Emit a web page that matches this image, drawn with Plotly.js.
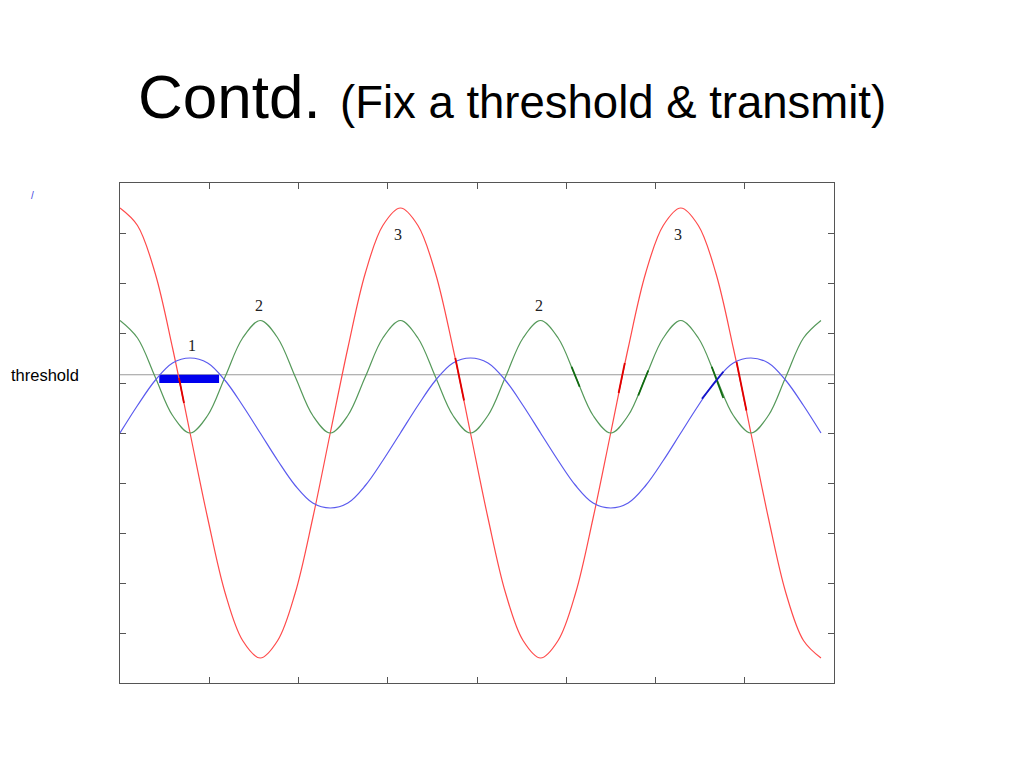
<!DOCTYPE html>
<html>
<head>
<meta charset="utf-8">
<script src="https://cdn.plot.ly/plotly-3.0.1.min.js"></script>
<style>
  html, body { margin: 0; padding: 0; background: #ffffff; }
  #chart { width: 1024px; height: 768px; }
</style>
</head>
<body>
<div id="chart"></div>
<script>
// ---- data ----
const t = [0, 0.196, 0.393, 0.589, 0.785, 0.982, 1.178, 1.374, 1.571, 1.767,
           1.963, 2.160, 2.356, 2.553, 2.749, 2.945, 3.142, 3.338, 3.534, 3.731,
           3.927, 4.123, 4.320, 4.516, 4.712, 4.909, 5.105, 5.301, 5.498, 5.694,
           5.890, 6.087, 6.283, 6.480, 6.676, 6.872, 7.069, 7.265, 7.461, 7.658, 7.854];

const signal3 = [0.9, 0.83, 0.64, 0.34, 0, -0.34, -0.64, -0.83, -0.9, -0.83,
                 -0.64, -0.34, 0, 0.34, 0.64, 0.83, 0.9, 0.83, 0.64, 0.34,
                 0, -0.34, -0.64, -0.83, -0.9, -0.83, -0.64, -0.34, 0, 0.34,
                 0.64, 0.83, 0.9, 0.83, 0.64, 0.34, 0, -0.34, -0.64, -0.83, -0.9];

const signal2 = [0.45, 0.38, 0.225, 0.07, 0, 0.07, 0.225, 0.38, 0.45, 0.38,
                 0.225, 0.07, 0, 0.07, 0.225, 0.38, 0.45, 0.38, 0.225, 0.07,
                 0, 0.07, 0.225, 0.38, 0.45, 0.38, 0.225, 0.07, 0, 0.07,
                 0.225, 0.38, 0.45, 0.38, 0.225, 0.07, 0, 0.07, 0.225, 0.38, 0.45];

const signal1 = [0, 0.11, 0.21, 0.28, 0.3, 0.28, 0.21, 0.11, 0, -0.11,
                 -0.21, -0.28, -0.3, -0.28, -0.21, -0.11, 0, 0.11, 0.21, 0.28,
                 0.3, 0.28, 0.21, 0.11, 0, -0.11, -0.21, -0.28, -0.3, -0.28,
                 -0.21, -0.11, 0, 0.11, 0.21, 0.28, 0.3, 0.28, 0.21, 0.11, 0];

const threshold = 0.233;
const barStart = 0.44;
const barEnd = 1.11;
const barBottom = 0.2;

// short highlighted pieces near the threshold crossings (null separates pieces)
const markRedX = [0.661, 0.717, null, 3.757, 3.855, null, 5.587, 5.656, null, 6.908, 7.019];
const markRedY = [0.22, 0.12, null, 0.30, 0.13, null, 0.16, 0.28, null, 0.285, 0.09];
const markGreenX = [5.06, 5.15, null, 5.807, 5.919, null, 6.63, 6.76];
const markGreenY = [0.265, 0.185, null, 0.15, 0.25, null, 0.265, 0.14];
const markBlueX = [6.52, 6.76];
const markBlueY = [0.137, 0.245];

const labelText = ['1', '2', '2', '3', '3'];
const labelX = [0.803, 1.557, 4.695, 3.115, 6.252];
const labelY = [0.349, 0.512, 0.512, 0.796, 0.796];

const xTicks = [1, 2, 3, 4, 5, 6, 7];
const yTicks = [-0.8, -0.6, -0.4, -0.2, 0, 0.2, 0.4, 0.6, 0.8];

// ---- traces ----
const traces = [
  { x: t, y: signal3, mode: 'lines', line: { color: '#ff4a4a', width: 1.2, shape: 'spline' }, hoverinfo: 'skip' },
  { x: t, y: signal2, mode: 'lines', line: { color: '#55995a', width: 1.2, shape: 'spline' }, hoverinfo: 'skip' },
  { x: t, y: signal1, mode: 'lines', line: { color: '#5a5aee', width: 1.2, shape: 'spline' }, hoverinfo: 'skip' },
  { x: markRedX, y: markRedY, mode: 'lines', line: { color: '#e00000', width: 1.8 }, connectgaps: false, hoverinfo: 'skip' },
  { x: markGreenX, y: markGreenY, mode: 'lines', line: { color: '#106a10', width: 1.8 }, connectgaps: false, hoverinfo: 'skip' },
  { x: markBlueX, y: markBlueY, mode: 'lines', line: { color: '#1515c8', width: 1.8 }, hoverinfo: 'skip' }
];

const annotations = labelText.map((s, i) => ({
  x: labelX[i], y: labelY[i], xref: 'x', yref: 'y', text: s, showarrow: false,
  xanchor: 'center', yanchor: 'middle',
  font: { family: 'Liberation Serif, Times New Roman, serif', size: 16, color: '#222222' }
}));

annotations.push(
  { xref: 'paper', yref: 'paper', x: 0.0224, y: 1.173, xanchor: 'left', yanchor: 'middle',
    text: 'Contd.', showarrow: false,
    font: { family: 'Liberation Sans, Arial, sans-serif', size: 62, color: '#000000' } },
  { xref: 'paper', yref: 'paper', x: 0.306, y: 1.1612, xanchor: 'left', yanchor: 'middle',
    text: '(Fix a threshold &amp; transmit)', showarrow: false,
    font: { family: 'Liberation Sans, Arial, sans-serif', size: 45.5, color: '#000000' } },
  { xref: 'paper', yref: 'y', x: -0.1555, y: threshold, xanchor: 'left', yanchor: 'middle',
    text: 'threshold', showarrow: false,
    font: { family: 'Liberation Sans, Arial, sans-serif', size: 16.5, color: '#000000' } },
  { xref: 'paper', yref: 'paper', x: -0.122, y: 0.976, xanchor: 'center', yanchor: 'middle',
    text: '/', showarrow: false,
    font: { family: 'Liberation Sans, Arial, sans-serif', size: 10, color: '#4040e0' } }
);

const layout = {
  width: 1024, height: 768,
  margin: { l: 120, r: 190, t: 183, b: 85, pad: 0 },
  paper_bgcolor: '#ffffff', plot_bgcolor: '#ffffff',
  showlegend: false,
  xaxis: {
    range: [0, 8], tickvals: xTicks, ticks: 'inside', ticklen: 6, tickcolor: '#555555', tickwidth: 1,
    showticklabels: false, showline: true, mirror: 'ticks', linecolor: '#555555', linewidth: 1,
    showgrid: false, zeroline: false, fixedrange: true
  },
  yaxis: {
    range: [-1, 1], tickvals: yTicks, ticks: 'inside', ticklen: 6, tickcolor: '#555555', tickwidth: 1,
    showticklabels: false, showline: true, mirror: 'ticks', linecolor: '#555555', linewidth: 1,
    showgrid: false, zeroline: false, fixedrange: true
  },
  shapes: [
    { type: 'line', xref: 'paper', yref: 'y', x0: 0, x1: 1, y0: threshold, y1: threshold,
      line: { color: '#9a9a9a', width: 1 }, layer: 'below' },
    { type: 'rect', xref: 'x', yref: 'y', x0: barStart, x1: barEnd, y0: barBottom, y1: threshold,
      fillcolor: '#0000ee', line: { width: 0 }, layer: 'below' }
  ],
  annotations: annotations
};

Plotly.newPlot('chart', traces, layout, { displayModeBar: false, staticPlot: true });
</script>
</body>
</html>
